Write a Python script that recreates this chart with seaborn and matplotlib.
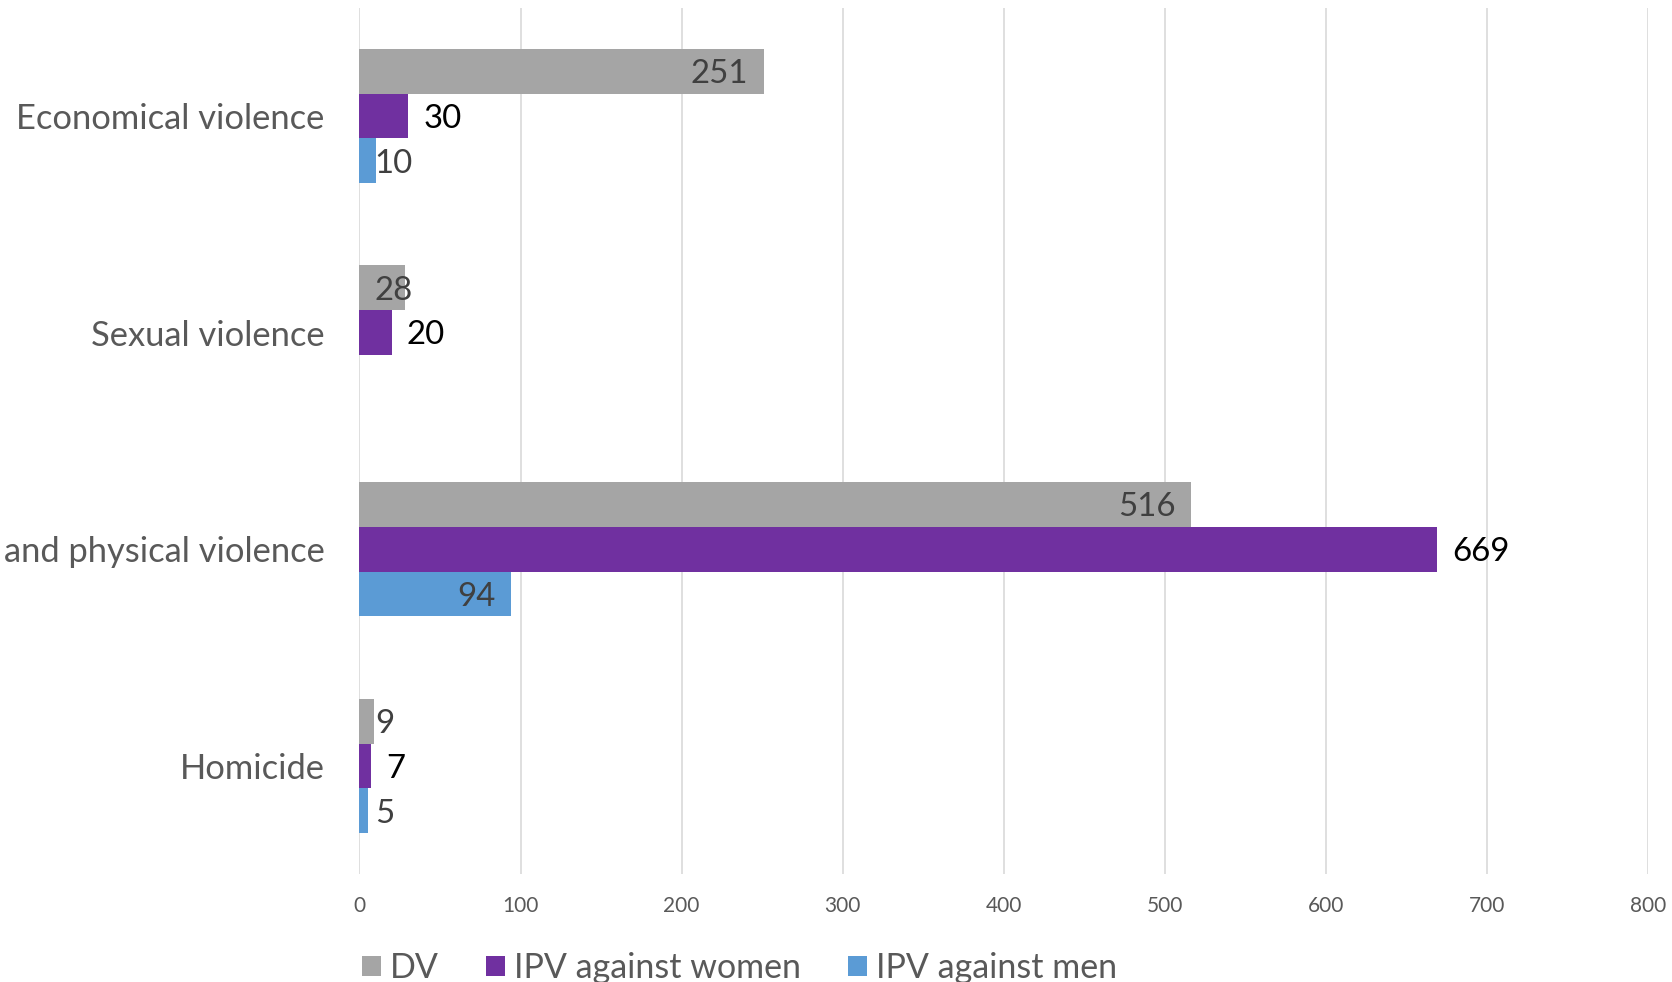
import matplotlib
matplotlib.use("Agg")
import matplotlib.pyplot as plt
import pandas as pd
import seaborn as sns
from matplotlib.patches import Patch

# Categories from top to bottom and the three series
categories = ["Economical violence", "Sexual violence", "and physical violence", "Homicide"]
series = ["DV", "IPV against women", "IPV against men"]
dv = [251, 28, 516, 9]
ipv_women = [30, 20, 669, 7]
ipv_men = [10, None, 94, 5]
x_ticks = [0, 100, 200, 300, 400, 500, 600, 700, 800]
colors = ["#A5A5A5", "#7030A0", "#5B9BD5"]

rows = []
for name, vals in zip(series, [dv, ipv_women, ipv_men]):
    for cat, v in zip(categories, vals):
        if v is not None:
            rows.append({"category": cat, "series": name, "value": v})
df = pd.DataFrame(rows)

sns.set_theme(style="white")
plt.rcParams["font.family"] = ["Lato", "DejaVu Sans"]

text_grey = "#595959"
label_fs = 23.8
cat_fs = 24.8
tick_fs = 15
legend_fs = 24.5

fig = plt.figure(figsize=(16.72, 9.82), dpi=100)
ax = fig.add_axes([0.2150, 0.1097, 0.7706, 0.8825])

sns.barplot(data=df, x="value", y="category", hue="series",
            order=categories, hue_order=series, palette=colors,
            saturation=1, width=0.62, orient="h", errorbar=None,
            legend=False, linewidth=0, ax=ax)

ax.set_xlim(0, 800)
ax.set_xticks(x_ticks)
ax.set_xticklabels([str(t) for t in x_ticks])
ax.set_xlabel("")
ax.set_ylabel("")
ax.grid(axis="x", color="#D9D9D9", linewidth=1.2)
ax.grid(axis="y", visible=False)
ax.set_axisbelow(True)
for s in ax.spines.values():
    s.set_visible(False)
ax.tick_params(axis="x", length=0, pad=16, labelsize=tick_fs, labelcolor=text_grey)
ax.tick_params(axis="y", length=0, pad=25, labelsize=cat_fs, labelcolor=text_grey)

# Value labels: DV and men inside the bar end, women outside the bar end
pad_pt = 11
dy = -2
for container, name in zip(ax.containers, series):
    for bar in container:
        w = bar.get_width()
        if not w or w != w:
            continue
        yc = bar.get_y() + bar.get_height() / 2
        label = f"{w:.0f}"
        if name == "IPV against women":
            ax.annotate(label, (w, yc), xytext=(pad_pt, dy), textcoords="offset points",
                        ha="left", va="center", color="black", fontsize=label_fs)
        elif w >= 60:
            ax.annotate(label, (w, yc), xytext=(-pad_pt, dy), textcoords="offset points",
                        ha="right", va="center", color="#404040", fontsize=label_fs)
        else:
            ax.annotate(label, (0, yc), xytext=(pad_pt, dy), textcoords="offset points",
                        ha="left", va="center", color="#404040", fontsize=label_fs)

handles = [Patch(facecolor=c, edgecolor="none", label=s) for c, s in zip(colors, series)]
fig.legend(handles=handles, loc="lower left", bbox_to_anchor=(362 / 1672, -0.002),
           ncol=3, frameon=False, fontsize=legend_fs, labelcolor=text_grey,
           handlelength=0.56, handleheight=0.56, handletextpad=0.25,
           columnspacing=1.4, borderpad=0, borderaxespad=0)

fig.savefig("out.png", dpi=100)
